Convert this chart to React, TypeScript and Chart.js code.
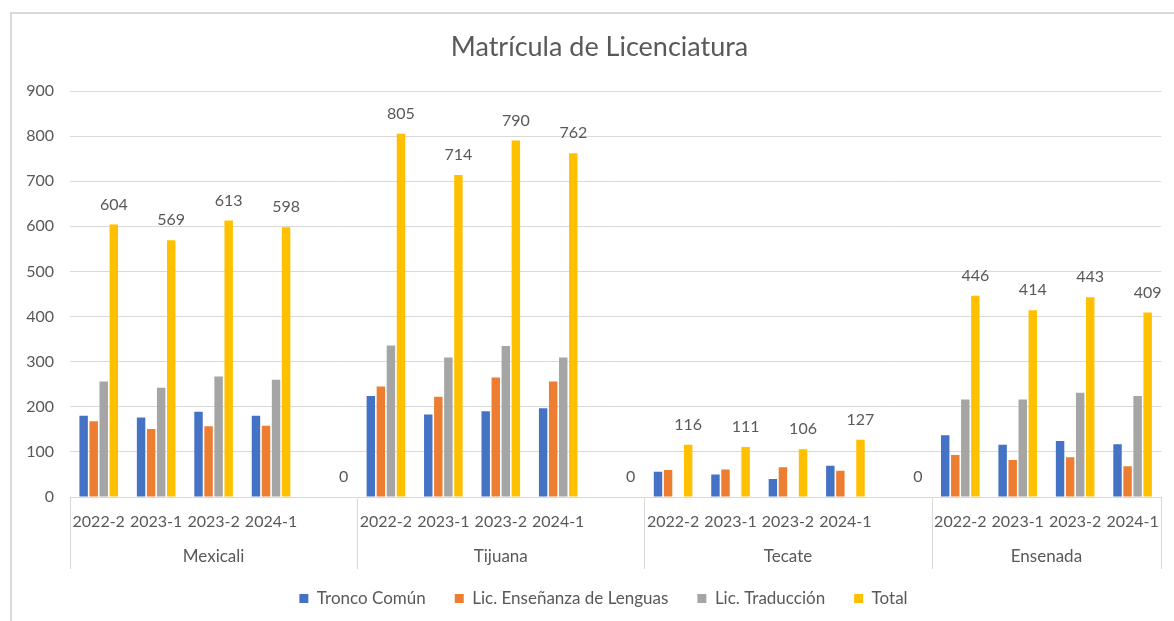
import React, { useEffect, useRef } from 'react';
import { Chart, registerables } from 'chart.js';

Chart.register(...registerables);

const titleText = 'Matrícula de Licenciatura';
const groupNames = ['Mexicali', 'Tijuana', 'Tecate', 'Ensenada'];
const groupSizes = [5, 5, 5, 4];
const categoryLabels = [
  '2022-2', '2023-1', '2023-2', '2024-1', '',
  '2022-2', '2023-1', '2023-2', '2024-1', '',
  '2022-2', '2023-1', '2023-2', '2024-1', '',
  '2022-2', '2023-1', '2023-2', '2024-1',
];
const troncoComun = [180, 176, 189, 180, null, 224, 183, 190, 197, null, 56, 50, 40, 69, null, 137, 116, 124, 117];
const licEnsenanza = [168, 151, 157, 158, null, 245, 222, 265, 256, null, 60, 61, 66, 58, null, 93, 82, 88, 68];
const licTraduccion = [256, 242, 267, 260, null, 336, 309, 335, 309, null, null, null, null, null, null, 216, 216, 231, 224];
const totalValues = [604, 569, 613, 598, 0, 805, 714, 790, 762, 0, 116, 111, 106, 127, 0, 446, 414, 443, 409];
const yTicks = [0, 100, 200, 300, 400, 500, 600, 700, 800, 900];

const TEXT = '#595959';
const GRID = '#d9d9d9';
const FONT = 'Lato';

export default function App() {
  const ref = useRef<HTMLCanvasElement>(null);

  useEffect(() => {
    if (!ref.current) return;

    const groupPlugin = {
      id: 'groupAxis',
      afterLayout(chart: any) {
        if (chart.legend) {
          chart.legend.left += 16;
          chart.legend.right += 16;
        }
        if (chart.titleBlock) {
          chart.titleBlock.left += 12;
          chart.titleBlock.right += 12;
        }
      },
      beforeDraw(chart: any) {
        const ctx = chart.ctx;
        ctx.save();
        ctx.strokeStyle = GRID;
        ctx.lineWidth = 2;
        ctx.beginPath();
        ctx.moveTo(11, 621);
        ctx.lineTo(11, 13);
        ctx.lineTo(1174, 13);
        ctx.stroke();
        ctx.restore();
      },
      afterDraw(chart: any) {
        const ctx = chart.ctx;
        const x = chart.scales.x;
        const bottom = chart.chartArea.bottom;
        ctx.save();
        ctx.strokeStyle = GRID;
        ctx.lineWidth = 1;
        let start = 0;
        const bounds: number[] = [x.getPixelForValue(-0.5)];
        groupSizes.forEach((n) => {
          start += n;
          bounds.push(x.getPixelForValue(start - 0.5));
        });
        bounds.forEach((b) => {
          const px = Math.round(b) + 0.5;
          ctx.beginPath();
          ctx.moveTo(px, bottom);
          ctx.lineTo(px, bottom + 72);
          ctx.stroke();
        });
        ctx.fillStyle = TEXT;
        ctx.font = `17px ${FONT}`;
        ctx.textAlign = 'center';
        ctx.textBaseline = 'middle';
        groupNames.forEach((g, i) => {
          ctx.fillText(g, (bounds[i] + bounds[i + 1]) / 2, bottom + 60);
        });
        // data labels for Total series
        ctx.font = `16px ${FONT}`;
        const meta = chart.getDatasetMeta(3);
        meta.data.forEach((bar: any, i: number) => {
          const v = totalValues[i];
          if (v === null || v === undefined) return;
          ctx.fillText(String(v), bar.x, bar.y - 20);
        });
        ctx.restore();
      },
    };

    const chart = new Chart(ref.current, {
      type: 'bar',
      data: {
        labels: categoryLabels,
        datasets: [
          { label: 'Tronco Común', data: troncoComun, backgroundColor: '#4472C4' },
          { label: 'Lic. Enseñanza de Lenguas', data: licEnsenanza, backgroundColor: '#ED7D31' },
          { label: 'Lic. Traducción', data: licTraduccion, backgroundColor: '#A5A5A5' },
          { label: 'Total', data: totalValues, backgroundColor: '#FFC000' },
        ],
      },
      options: {
        responsive: false,
        animation: false,
        datasets: {
          bar: { categoryPercentage: 0.7, barPercentage: 0.84 },
        },
        layout: { padding: { left: 10, right: 9, top: 0, bottom: 4 } },
        plugins: {
          title: {
            display: true,
            text: titleText,
            color: TEXT,
            font: { family: FONT, size: 27, weight: 'normal' },
            padding: { top: 30.8, bottom: 27.8 },
          },
          legend: {
            position: 'bottom',
            labels: {
              color: TEXT,
              font: { family: FONT, size: 17 },
              boxWidth: 9,
              boxHeight: 9,
              padding: 29,
            },
          },
          tooltip: { enabled: false },
        },
        scales: {
          x: {
            grid: { display: false, drawTicks: false },
            border: { color: GRID, width: 1 },
            ticks: {
              color: TEXT,
              font: { family: FONT, size: 16 },
              padding: 15,
              maxRotation: 0,
              autoSkip: false,
            },
            afterFit: (s: any) => { s.height = 64; },
          },
          y: {
            min: 0,
            max: 900,
            grid: { color: GRID, drawTicks: false },
            border: { display: false },
            afterBuildTicks: (s: any) => { s.ticks = yTicks.map((v) => ({ value: v })); },
            ticks: {
              color: TEXT,
              font: { family: FONT, size: 16 },
              padding: 16,
            },
            afterFit: (s: any) => { s.width = 60; },
          },
        },
      },
      plugins: [groupPlugin],
    });

    return () => chart.destroy();
  }, []);

  return (
    <div style={{ position: 'fixed', left: 0, top: 0, width: 1174, height: 621, background: '#fff' }}>
      <canvas ref={ref} width={1174} height={621} style={{ display: 'block' }} />
    </div>
  );
}
